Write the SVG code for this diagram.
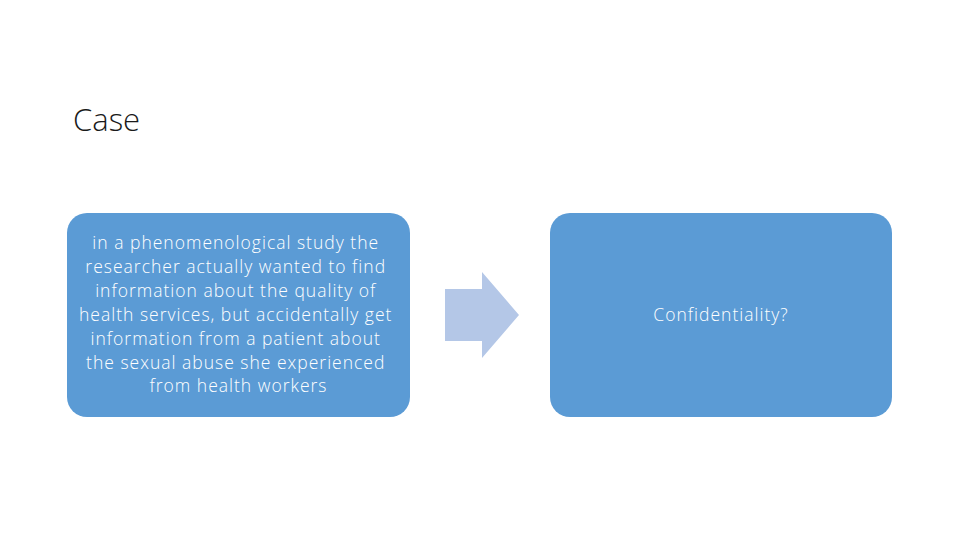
<svg xmlns="http://www.w3.org/2000/svg" width="960" height="540" viewBox="0 0 960 540">
<style>
.box{fill:#5B9BD5}
.t{font-family:"Open Sans","Liberation Sans",Arial,sans-serif;font-size:17.5px;letter-spacing:1px;font-weight:300;fill:#FFFFFF;text-anchor:middle}
.title{font-family:"Open Sans","Liberation Sans",Arial,sans-serif;font-size:31px;font-weight:300;fill:#1a1a1a}
</style>
<rect width="960" height="540" fill="#FFFFFF"/>
<text class="title" x="73" y="131">Case</text>
<g id="case-box">
<rect class="box" x="67" y="213" width="343" height="204" rx="20" ry="20"/>
<text class="t">
<tspan x="238.5" y="249">in a phenomenological study the</tspan>
<tspan x="238.5" y="273">researcher actually wanted to find</tspan>
<tspan x="238.5" y="297">information about the quality of</tspan>
<tspan x="238.5" y="321">health services, but accidentally get</tspan>
<tspan x="238.5" y="345">information from a patient about</tspan>
<tspan x="238.5" y="369">the sexual abuse she experienced</tspan>
<tspan x="238.5" y="392">from health workers</tspan>
</text>
</g>
<g id="connectors">
<polygon points="445,289 482,289 482,272 519,315 482,358 482,341 445,341" fill="#B4C7E7"/>
</g>
<g id="confidentiality-box">
<rect class="box" x="550" y="213" width="342" height="204" rx="20" ry="20"/>
<text class="t" x="721" y="321">Confidentiality?</text>
</g>
</svg>
